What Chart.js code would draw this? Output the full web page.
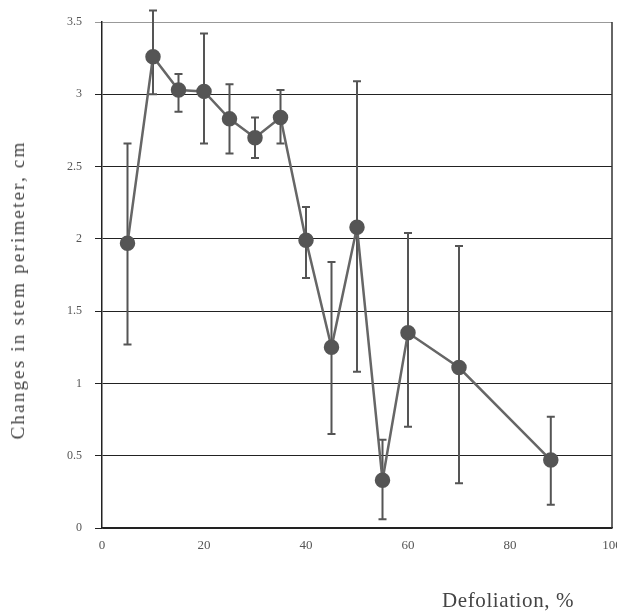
<!DOCTYPE html>
<html>
<head>
<meta charset="utf-8">
<script src="https://cdn.jsdelivr.net/npm/chart.js@4"></script>
<style>
  body { margin: 0; background: #fff; overflow: hidden; }
  #wrap { position: relative; width: 617px; height: 611px; overflow: hidden; }
  #yTitle {
    position: absolute; left: 18px; top: 290px;
    transform: translate(-50%, -50%) rotate(-90deg);
    white-space: nowrap;
    font-family: "Liberation Serif", serif; font-size: 19px;
    letter-spacing: 2.2px; color: #444;
  }
  #xTitle {
    position: absolute; left: 442px; top: 588px;
    white-space: nowrap;
    font-family: "Liberation Serif", serif; font-size: 21px;
    letter-spacing: 0.6px; color: #444; line-height: 24px;
  }
</style>
</head>
<body>
<div id="wrap">
  <canvas id="chart" width="640" height="611"></canvas>
  <div id="yTitle">Changes in stem perimeter, cm</div>
  <div id="xTitle">Defoliation, %</div>
</div>
<script>
// values
const defoliation = [5, 10, 15, 20, 25, 30, 35, 40, 45, 50, 55, 60, 70, 88];
const perimeterChange = [1.97, 3.26, 3.03, 3.02, 2.83, 2.70, 2.84, 1.99, 1.25, 2.08, 0.33, 1.35, 1.11, 0.47];
const errUpper = [2.66, 3.58, 3.14, 3.42, 3.07, 2.84, 3.03, 2.22, 1.84, 3.09, 0.61, 2.04, 1.95, 0.77];
const errLower = [1.27, 3.00, 2.88, 2.66, 2.59, 2.56, 2.66, 1.73, 0.65, 1.08, 0.06, 0.70, 0.31, 0.16];
const xTicks = [0, 20, 40, 60, 80, 100];
const yTicks = [0, 0.5, 1, 1.5, 2, 2.5, 3, 3.5];

const points = defoliation.map((x, i) => ({ x: x, y: perimeterChange[i] }));

// draw the error bars and the right frame line
const errorBars = {
  id: 'errorBars',
  beforeDatasetsDraw(chart) {
    const ctx = chart.ctx;
    const meta = chart.getDatasetMeta(0);
    const yScale = chart.scales.y;
    ctx.save();
    ctx.strokeStyle = '#555';
    ctx.lineWidth = 2;
    meta.data.forEach((pt, i) => {
      const top = yScale.getPixelForValue(errUpper[i]);
      const bot = yScale.getPixelForValue(errLower[i]);
      ctx.beginPath();
      ctx.moveTo(pt.x, top);
      ctx.lineTo(pt.x, bot);
      ctx.moveTo(pt.x - 4, top);
      ctx.lineTo(pt.x + 4, top);
      ctx.moveTo(pt.x - 4, bot);
      ctx.lineTo(pt.x + 4, bot);
      ctx.stroke();
    });
    ctx.restore();
  },
  afterDraw(chart) {
    const a = chart.chartArea;
    const ctx = chart.ctx;
    ctx.save();
    ctx.strokeStyle = '#333';
    ctx.lineWidth = 1.5;
    ctx.beginPath();
    ctx.moveTo(a.right, a.top);
    ctx.lineTo(a.right, a.bottom);
    ctx.stroke();
    ctx.restore();
  }
};

new Chart(document.getElementById('chart'), {
  type: 'scatter',
  data: {
    datasets: [{
      data: points,
      showLine: true,
      borderColor: '#666',
      borderWidth: 2.5,
      backgroundColor: '#555',
      pointBackgroundColor: '#555',
      pointBorderColor: '#555',
      pointRadius: 6.5,
      pointHoverRadius: 6.5
    }]
  },
  options: {
    responsive: false,
    animation: false,
    events: [],
    layout: { padding: { top: 22, right: 28, left: 0, bottom: 0 } },
    plugins: { legend: { display: false }, tooltip: { enabled: false } },
    scales: {
      x: {
        type: 'linear',
        min: 0, max: 100,
        afterBuildTicks: s => { s.ticks = xTicks.map(v => ({ value: v })); },
        afterFit: s => { s.height = 83; },
        grid: { display: false },
        border: { display: true, color: '#222', width: 1.5 },
        ticks: {
          padding: 2,
          color: '#555',
          font: { family: 'Liberation Serif', size: 13 }
        }
      },
      y: {
        min: 0, max: 3.5,
        afterBuildTicks: s => { s.ticks = yTicks.map(v => ({ value: v })); },
        afterFit: s => { s.width = 102; },
        grid: {
          color: c => (c.tick && c.tick.value === 3.5) ? '#999' : '#222',
          lineWidth: 1,
          tickLength: 7
        },
        border: { display: true, color: '#222', width: 1.5 },
        ticks: {
          padding: 13,
          color: '#555',
          font: { family: 'Liberation Serif', size: 12 },
          callback: v => String(v)
        }
      }
    }
  },
  plugins: [errorBars]
});
</script>
</body>
</html>
